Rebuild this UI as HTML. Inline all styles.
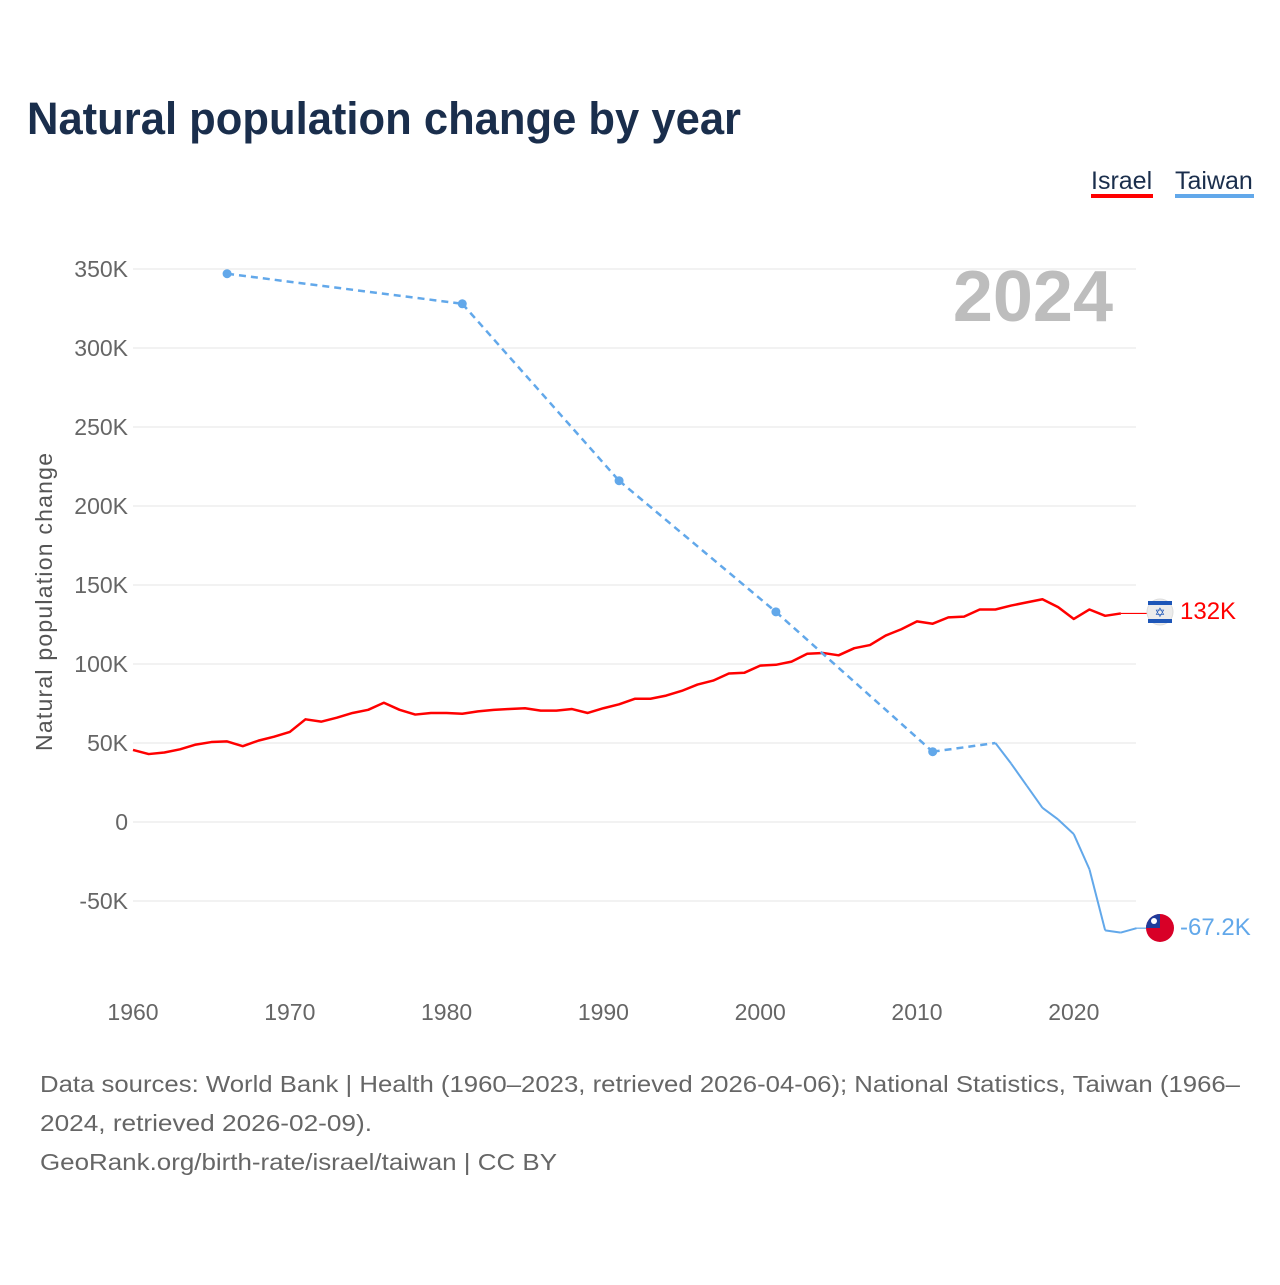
<!DOCTYPE html>
<html><head><meta charset="utf-8"><style>
body{margin:0;width:1280px;height:1280px;background:#fff;font-family:"Liberation Sans",sans-serif;overflow:hidden}
</style></head><body>
<svg width="1280" height="1280" viewBox="0 0 1280 1280" xmlns="http://www.w3.org/2000/svg">
<text x="27" y="134" font-size="45" font-weight="bold" fill="#1a2e4c" textLength="714" lengthAdjust="spacingAndGlyphs">Natural population change by year</text>
<g><text x="1091" y="189" font-size="25" fill="#1a2e4c">Israel</text><rect x="1091" y="194" width="62" height="4" fill="#ff0000"/></g>
<g><text x="1175" y="189" font-size="25" fill="#1a2e4c">Taiwan</text><rect x="1175" y="194" width="79" height="4" fill="#62a8ea"/></g>
<text x="1113" y="321" font-size="72" font-weight="bold" fill="#bdbdbd" text-anchor="end">2024</text>
<text transform="translate(52,602) rotate(-90)" font-size="23" fill="#555" text-anchor="middle" textLength="298">Natural population change</text>
<g id="grid"></g><g id="ylab"></g><g id="xlab"></g><g id="series"></g>
<g>
<circle cx="1160" cy="612" r="13" fill="#ececec" stroke="#ddd"/><rect x="1148" y="601" width="24" height="4" fill="#1d56b8"/><rect x="1148" y="619" width="24" height="4" fill="#1d56b8"/>
<text x="1160" y="617" font-size="13" fill="#1d56b8" text-anchor="middle">✡</text>
<text x="1180" y="619" font-size="24" fill="#ff0000">132K</text></g>
<g>
<circle cx="1160" cy="928" r="14" fill="#d80027"/><path d="M1146 928 A14 14 0 0 1 1160 914 L1160 928Z" fill="#1f3c9c"/><circle cx="1154" cy="921" r="3" fill="#fff"/>
<text x="1180" y="935" font-size="24" fill="#62a8ea">-67.2K</text></g>
<text font-size="23" fill="#666"><tspan x="40" y="1092" textLength="1200" lengthAdjust="spacingAndGlyphs">Data sources: World Bank | Health (1960–2023, retrieved 2026-04-06); National Statistics, Taiwan (1966–</tspan><tspan x="40" y="1131" textLength="332" lengthAdjust="spacingAndGlyphs">2024, retrieved 2026-02-09).</tspan><tspan x="40" y="1170" textLength="517" lengthAdjust="spacingAndGlyphs">GeoRank.org/birth-rate/israel/taiwan | CC BY</tspan></text>
</svg>
<script>
const yTicks=[-50000,0,50000,100000,150000,200000,250000,300000,350000];
const yTickLabels=["-50K","0","50K","100K","150K","200K","250K","300K","350K"];
const xTicks=[1960,1970,1980,1990,2000,2010,2020];
const israelYears=[1960,1961,1962,1963,1964,1965,1966,1967,1968,1969,1970,1971,1972,1973,1974,1975,1976,1977,1978,1979,1980,1981,1982,1983,1984,1985,1986,1987,1988,1989,1990,1991,1992,1993,1994,1995,1996,1997,1998,1999,2000,2001,2002,2003,2004,2005,2006,2007,2008,2009,2010,2011,2012,2013,2014,2015,2016,2017,2018,2019,2020,2021,2022,2023];
const israelValues=[45600,43000,44000,46000,49000,50600,51000,48000,51500,54000,57000,65000,63500,66000,69000,71000,75500,71000,68000,69000,69000,68500,70000,71000,71500,72000,70500,70500,71500,69000,72000,74500,78000,78000,80000,83000,87000,89500,94000,94500,99000,99500,101500,106500,107000,105500,110000,112000,118000,122000,127000,125500,129500,130000,134500,134500,137000,139000,141000,136000,128500,134500,130500,132000];
const taiwanYears=[1966,1981,1991,2001,2011,2015,2016,2017,2018,2019,2020,2021,2022,2023,2024];
const taiwanValues=[347000,328000,216000,133000,44500,50000,37000,23000,9000,1600,-7700,-30000,-68600,-70000,-67200];
const X=y=>133+(y-1960)*15.68, Y=v=>822-v/50000*79;
const NS='http://www.w3.org/2000/svg';
function mk(t,a,p){const e=document.createElementNS(NS,t);for(const k in a)e.setAttribute(k,a[k]);p.appendChild(e);return e;}
const g=document.getElementById('grid'),yl=document.getElementById('ylab'),xl=document.getElementById('xlab'),s=document.getElementById('series');
yTicks.forEach((v,i)=>{
 const l=mk('line',{x1:133,x2:1136,y1:Y(v),y2:Y(v),stroke:'#e6e6e6','stroke-width':1},g);
 
 
 const t=mk('text',{x:128,y:Y(v)+8,'font-size':23,fill:'#666','text-anchor':'end'},yl);t.textContent=yTickLabels[i];
 
 
});
xTicks.forEach(y=>{
 const t=mk('text',{x:X(y),y:1020,'font-size':23,fill:'#666','text-anchor':'middle'},xl);t.textContent=y;
 
 
});
let d=israelYears.map((y,i)=>(i?'L':'M')+X(y)+' '+Y(israelValues[i])).join(' ');
const ip=mk('path',{d:d,fill:'none',stroke:'#ff0000','stroke-width':2.5,'stroke-linejoin':'round'},s);


const last=israelValues[israelValues.length-1];
const il=mk('line',{x1:X(2023),x2:1147,y1:Y(last),y2:Y(last),stroke:'#ff0000','stroke-width':1.2},s);


for(let i=1;i<taiwanYears.length;i++){
 const gap=taiwanYears[i]-taiwanYears[i-1]>1;
 const seg=mk('line',{x1:X(taiwanYears[i-1]),y1:Y(taiwanValues[i-1]),x2:X(taiwanYears[i]),y2:Y(taiwanValues[i]),stroke:'#62a8ea','stroke-width':gap?2.5:2,'stroke-dasharray':gap?'7 5':'none'},s);
 
 
}
taiwanYears.forEach((y,i)=>{
 const prevGap=i==0||y-taiwanYears[i-1]>1, nextGap=i==taiwanYears.length-1||taiwanYears[i+1]-y>1;
 if(prevGap&&nextGap){const c=mk('circle',{cx:X(y),cy:Y(taiwanValues[i]),r:4.5,fill:'#62a8ea'},s);
 
 }
});
const tl=taiwanValues[taiwanValues.length-1];
const tc=mk('line',{x1:X(2024),x2:1147,y1:Y(tl),y2:Y(tl),stroke:'#62a8ea','stroke-width':1.2},s);


</script>
</body></html>
